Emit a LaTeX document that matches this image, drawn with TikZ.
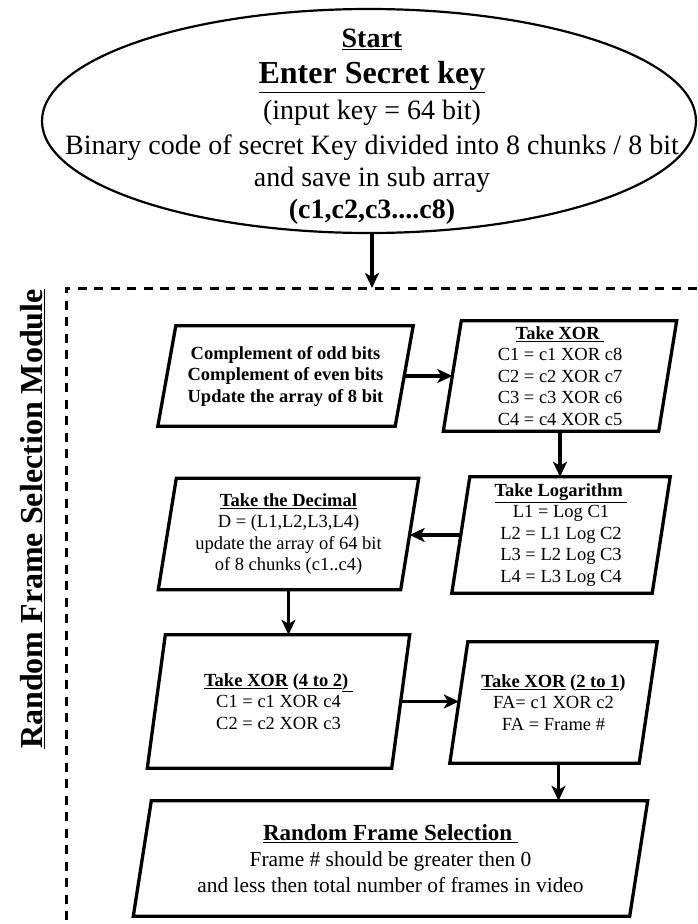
\documentclass[tikz,border=0pt]{standalone}
\usepackage{fontspec}
\setmainfont{Liberation Serif}
\usetikzlibrary{shapes.geometric,arrows.meta}

\begin{document}
\begin{tikzpicture}[
        x=1pt, y=-1pt,
        box/.style={rectangle, inner sep=1pt, align=center, font=\fontsize{18.5}{21.5}\selectfont},
        paraline/.style={draw=black, line width=3.3pt, line join=miter},
        startshape/.style={ellipse, draw=black, line width=2.2pt, inner sep=0pt},
        arr/.style={line width=3.5pt, -{Stealth[length=15pt, width=14pt, inset=4pt]}},
        border/.style={line width=3pt, dash pattern=on 9pt off 7.5pt}
    ]

        \useasboundingbox (0,0) rectangle (697,924);

        % start ellipse
        \node[startshape, minimum width=654pt, minimum height=224pt,
            label={[align=center, xshift=3pt, yshift=-6pt, font=\fontsize{28}{32}\selectfont]center:{%
                \textbf{\underline{Start}}\\[4pt]
                {\fontsize{32}{36}\selectfont\bfseries\underline{Enter Secret key}}\\[4pt]
                (input key = 64 bit)\\[3pt]
                Binary code of secret Key divided into 8 chunks / 8 bit\\
                and save in sub array\\
                \textbf{(c1,c2,c3....c8)}}}] (key) at (369,121) {};

        % module frame
        \draw[border] (697,288) -- (66,288) -- (66,924);
        \coordinate (mtop) at (372,288);
        \node[rotate=90, font=\fontsize{32}{36}\selectfont\bfseries] (side) at (33,519)
            {\underline{Random Frame Selection Module}};

        \node[box, minimum width=237pt, minimum height=100pt, font=\fontsize{18.5}{21.5}\selectfont\bfseries]
            (cmp) at (285.5,376) {Complement of odd bits\\Complement of even bits\\Update the array of 8 bit};
        \node[box, minimum width=215pt, minimum height=110pt] (xor) at (560,376)
            {\textbf{\underline{Take XOR\ }}\\C1 = c1 XOR c8\\C2 = c2 XOR c7\\C3 = c3 XOR c6\\C4 = c4 XOR c5};
        \node[box, minimum width=200pt, minimum height=116pt] (log) at (561,535)
            {\textbf{\underline{Take Logarithm\ }}\\L1 = Log C1\\L2 = L1 Log C2\\L3 = L2 Log C3\\L4 = L3 Log C4};
        \node[box, minimum width=242pt, minimum height=111pt] (dec) at (288.5,534)
            {\textbf{\underline{Take the Decimal}}\\D = (L1,L2,L3,L4)\\update the array of 64 bit\\of 8 chunks (c1..c4)};
        \node[box, minimum width=244pt, minimum height=133pt] (xorB) at (278.5,701.5)
            {\textbf{\underline{Take XOR} (\underline{4 to 2}\underline{)\ }}\\C1 = c1 XOR c4\\C2 = c2 XOR c3};
        \node[box, minimum width=189pt, minimum height=121pt] (xorC) at (553.5,702.5)
            {\textbf{\underline{Take XOR} (\underline{2 to 1})}\\FA= c1 XOR c2\\FA = Frame \#};
        \node[box, minimum width=496pt, minimum height=115pt, font=\fontsize{21.4}{26}\selectfont] (rfs) at (390.5,858.5)
            {{\fontsize{23}{26}\selectfont\bfseries\underline{Random Frame Selection\ }}\\
            Frame \# should be greater then 0\\and less then total number of frames in video};

        % slanted outlines
        \foreach \n in {cmp,xor,log,dec,xorB,xorC,rfs}
            \draw[paraline] ([xshift=9pt]\n.north west) -- ([xshift=9pt]\n.north east)
                -- ([xshift=-9pt]\n.south east) -- ([xshift=-9pt]\n.south west) -- cycle;

        \draw[arr] (key.south -| mtop) -- (mtop);
        \draw[arr] (cmp.east) -- (cmp.east -| xor.west);
        \draw[arr] (xor.south) -- (xor.south |- log.north);
        \draw[arr] (log.west) -- (log.west -| dec.east);
        \draw[arr] (dec.south) -- (dec.south |- xorB.north);
        \draw[arr] (xorB.east) -- (xorB.east -| xorC.west);
        \draw[arr] ([xshift=5pt]xorC.south) -- ([xshift=5pt]xorC.south |- rfs.north);
    \end{tikzpicture}
\end{document}
